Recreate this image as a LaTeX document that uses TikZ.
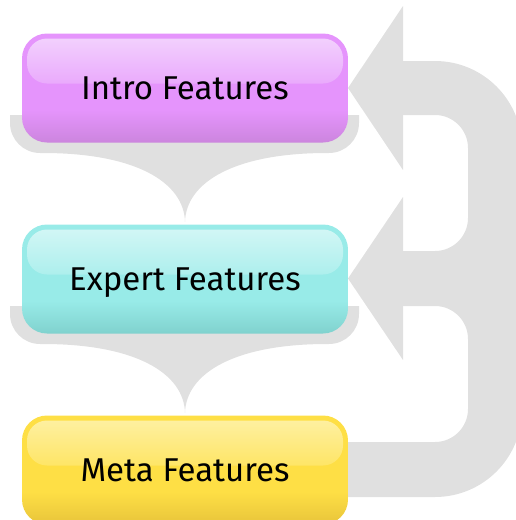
\documentclass[tikz,border=0pt]{standalone}
\usepackage{fontspec}
\setmainfont{Fira Sans}
\definecolor{graybg}{RGB}{224,224,224}
\definecolor{introbase}{RGB}{229,148,252}
\definecolor{introlight}{RGB}{243,212,253}
\definecolor{introdark}{RGB}{204,133,222}
\definecolor{expertbase}{RGB}{152,235,232}
\definecolor{expertlight}{RGB}{213,247,246}
\definecolor{expertdark}{RGB}{128,210,206}
\definecolor{metabase}{RGB}{254,223,69}
\definecolor{metalight}{RGB}{254,241,166}
\definecolor{metadark}{RGB}{232,196,58}
\pgfdeclareverticalshading{intromain}{100bp}{color(0bp)=(introdark); color(25bp)=(introdark); color(40bp)=(introbase); color(100bp)=(introbase)}
\pgfdeclareverticalshading{expertmain}{100bp}{color(0bp)=(expertdark); color(25bp)=(expertdark); color(40bp)=(expertbase); color(100bp)=(expertbase)}
\pgfdeclareverticalshading{metamain}{100bp}{color(0bp)=(metadark); color(25bp)=(metadark); color(40bp)=(metabase); color(100bp)=(metabase)}
\pgfdeclareverticalshading{introgloss}{100bp}{color(0bp)=(introbase); color(40bp)=(introbase); color(75bp)=(introlight); color(100bp)=(introlight)}
\pgfdeclareverticalshading{expertgloss}{100bp}{color(0bp)=(expertbase); color(40bp)=(expertbase); color(75bp)=(expertlight); color(100bp)=(expertlight)}
\pgfdeclareverticalshading{metagloss}{100bp}{color(0bp)=(metabase); color(40bp)=(metabase); color(75bp)=(metalight); color(100bp)=(metalight)}
\tikzset{
  featbox/.style={rounded corners=25pt, minimum width=326pt, minimum height=109pt,
    inner sep=0pt, text height=23pt, text depth=0pt, text=black,
    font=\fontsize{33}{34}\selectfont, shade, shading=#1main,
    path picture={\shade[rounded corners=20pt, shading=#1gloss]
      ([xshift=5pt,yshift=-5pt]path picture bounding box.north west) rectangle
      ([xshift=-5pt,yshift=-50pt]path picture bounding box.north east);}},
  bg/.style={fill=graybg}
}
\begin{document}
\begin{tikzpicture}[x=1pt,y=-1pt]
\useasboundingbox (0,0) rectangle (515,520);
% braces
\foreach \dy in {0,191}{
\begin{scope}[shift={(0,\dy)}]
\fill[bg] (10,115) -- (10,123) .. controls (10,139.6) and (23.4,153) .. (40,153)
  -- (43,153) .. controls (135,153) and (184,182) .. (185,222)
  .. controls (186,182) and (235,153) .. (327,153) -- (329,153)
  .. controls (345.6,153) and (359,139.6) .. (359,123) -- (359,115) -- cycle;
\end{scope}}
% feedback arrows
\fill[bg] (395,61) -- (435,61) .. controls (483.05,61) and (522,99.95) .. (522,148)
  -- (522,410) .. controls (522,458.05) and (483.05,497) .. (435,497)
  -- (348,497) -- (348,442) -- (435,442) .. controls (453.2,442) and (468,427.2) .. (468,409)
  -- (468,339) .. controls (468,320.8) and (453.2,306) .. (435,306)
  -- (395,306) -- (395,251) -- (435,251) .. controls (453.2,251) and (468,236.2) .. (468,218)
  -- (468,148) .. controls (468,129.8) and (453.2,115) .. (435,115)
  -- (395,115) -- cycle;
\fill[bg] (348,88) -- (403,6) -- (403,170) -- cycle;
\fill[bg] (348,278.5) -- (403,197) -- (403,360) -- cycle;
% boxes
\node[featbox=intro] (intro) at (185,88) {Intro Features};
\node[featbox=expert] (expert) at (185,279) {Expert Features};
\node[featbox=meta] (meta) at (185,470) {Meta Features};
\end{tikzpicture}
\end{document}
